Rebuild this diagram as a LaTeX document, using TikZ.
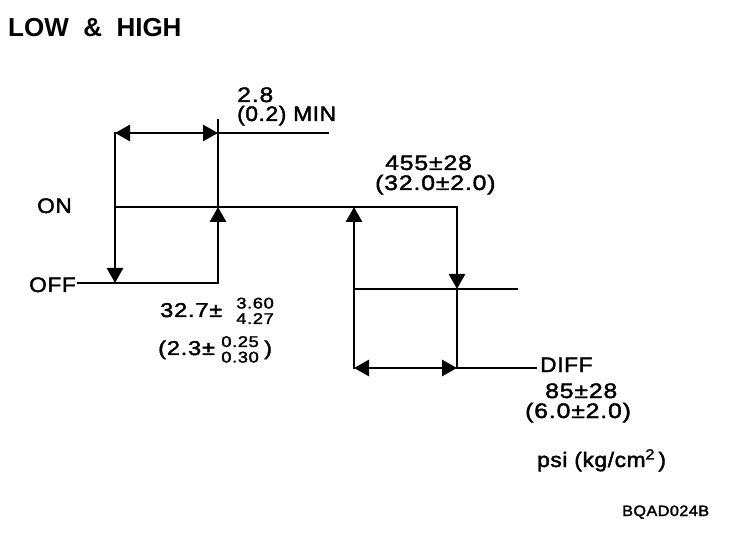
\documentclass[tikz,border=0pt]{standalone}
\usepackage{fontspec}
\setmainfont{Liberation Sans}[FakeStretch=1.08, LetterSpace=3, FakeBold=2]
\newfontfamily\numfont{Liberation Sans}[FakeStretch=1.18, LetterSpace=4, FakeBold=2]
\newfontfamily\ttlfont{Liberation Sans}[FakeStretch=1.0]
\usetikzlibrary{arrows.meta}
\tikzset{
  ln/.style={line width=2.8pt, line cap=rect},
  arr/.style={ln, -{Triangle[length=15pt,width=16pt]}},
  darr/.style={ln, {Triangle[length=15pt,width=16pt]}-{Triangle[length=15pt,width=16pt]}},
  lbl/.style={inner sep=0pt, anchor=base west, font=\fontsize{21}{23}\selectfont},
  num/.style={inner sep=0pt, anchor=base west, font=\fontsize{21}{23}\numfont},
  tiny/.style={inner sep=0pt, anchor=base east, font=\fontsize{15.5}{16}\numfont},
}
\begin{document}
\begin{tikzpicture}[x=1pt,y=-1pt]
\useasboundingbox (0,0) rectangle (752,534);
% coordinates
\coordinate (A1) at (115,133);
\coordinate (A2) at (115,283);
\coordinate (A3) at (115,207);
\coordinate (B0) at (218,120);
\coordinate (B1) at (218,133);
\coordinate (B2) at (218,207);
\coordinate (B3) at (218,283);
\coordinate (E1) at (328,133);
\coordinate (F0) at (78,283);
\coordinate (C1) at (354,207);
\coordinate (C2) at (354,289);
\coordinate (C3) at (354,368);
\coordinate (D1) at (457,207);
\coordinate (D2) at (457,289);
\coordinate (D3) at (457,368);
\coordinate (M2) at (517,289);
\coordinate (G3) at (536,368);
% lines
\draw[arr] (A1) -- (A2);
\draw[darr] (A1) -- (B1);
\draw[ln] (B1) -- (E1);
\draw[ln] (B0) -- (B1);
\draw[ln] (B1) -- (B2);
\draw[arr] (B3) -- (B2);
\draw[ln] (F0) -- (B3);
\draw[ln] (A3) -- (D1);
\draw[arr] (C3) -- (C1);
\draw[arr] (D1) -- (D2);
\draw[ln] (D2) -- (D3);
\draw[ln] (C2) -- (M2);
\draw[darr] (C3) -- (D3);
\draw[ln] (D3) -- (G3);
% texts
\node[inner sep=0pt, anchor=base west, font=\fontsize{26}{28}\ttlfont\bfseries] (title) at (8,37) {LOW \ \& \ HIGH};
\node[num] (t28) at (237,102) {2.8};
\node[lbl] (t02) at (237,121) {(0.2) MIN};
\node[lbl] (on) at (37,213) {ON};
\node[lbl] (off) at (29,292) {OFF};
\node[num] (t455) at (385,170) {455±28};
\node[num] (t32) at (375,190) {(32.0±2.0)};
\node[num, font=\fontsize{20}{22}\numfont] (t327) at (160,317) {32.7±};
\node[tiny] (t360) at (274,308.5) {3.60};
\node[tiny] (t427) at (274,324) {4.27};
\node[num, font=\fontsize{20}{22}\numfont] (t23) at (158,355) {(2.3±};
\node[tiny] (t025) at (259,347) {0.25};
\node[tiny] (t030) at (259,362.5) {0.30};
\node[num, font=\fontsize{20}{22}\numfont] (t23r) at (264,355) {)};
\node[lbl] (diff) at (540,372) {DIFF};
\node[num] (t85) at (545,398) {85±28};
\node[num] (t60) at (525,418) {(6.0±2.0)};
\node[lbl] (psi) at (537,467) {psi (kg/cm\textsuperscript{2}\,)};
\node[lbl, font=\fontsize{15}{15}\selectfont] (code) at (622,516) {BQAD024B};
\end{tikzpicture}
\end{document}
